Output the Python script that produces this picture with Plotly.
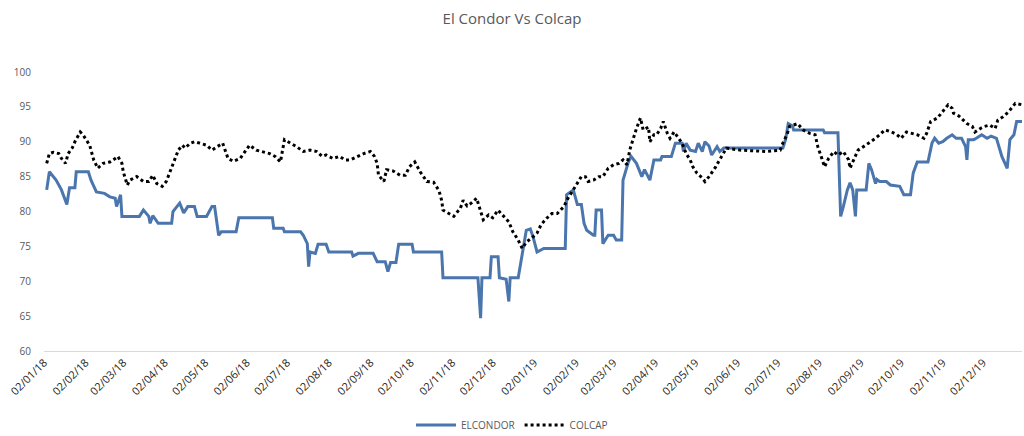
import plotly.graph_objects as go
import pandas as pd

# ---- Data ----
condor_dates = [
    "2018-01-04", "2018-01-06", "2018-01-11", "2018-01-15", "2018-01-19", "2018-01-21", "2018-01-25", "2018-01-26",
    "2018-02-04", "2018-02-06", "2018-02-10", "2018-02-16", "2018-02-20", "2018-02-24", "2018-02-25", "2018-02-28",
    "2018-03-01", "2018-03-14", "2018-03-17", "2018-03-21", "2018-03-22", "2018-03-24", "2018-03-28", "2018-04-07",
    "2018-04-08", "2018-04-13", "2018-04-16", "2018-04-19", "2018-04-24", "2018-04-26", "2018-05-03", "2018-05-07",
    "2018-05-09", "2018-05-12", "2018-05-14", "2018-05-25", "2018-05-27", "2018-06-21", "2018-06-22", "2018-06-29",
    "2018-06-30", "2018-07-12", "2018-07-14", "2018-07-17", "2018-07-18", "2018-07-19", "2018-07-23", "2018-07-25",
    "2018-07-31", "2018-08-02", "2018-08-19", "2018-08-20", "2018-08-24", "2018-09-04", "2018-09-07", "2018-09-13",
    "2018-09-15", "2018-09-17", "2018-09-21", "2018-09-23", "2018-10-03", "2018-10-04", "2018-10-25", "2018-10-26",
    "2018-11-21", "2018-11-23", "2018-11-24", "2018-11-30", "2018-12-01", "2018-12-06", "2018-12-07", "2018-12-12",
    "2018-12-14", "2018-12-15", "2018-12-21", "2018-12-24", "2018-12-27", "2018-12-30", "2019-01-01", "2019-01-04",
    "2019-01-09", "2019-01-25", "2019-01-26", "2019-01-31", "2019-02-03", "2019-02-06", "2019-02-08", "2019-02-10",
    "2019-02-15", "2019-02-16", "2019-02-17", "2019-02-21", "2019-02-22", "2019-02-26", "2019-03-02", "2019-03-04",
    "2019-03-08", "2019-03-09", "2019-03-11", "2019-03-13", "2019-03-15", "2019-03-19", "2019-03-23", "2019-03-25",
    "2019-03-29", "2019-04-01", "2019-04-06", "2019-04-07", "2019-04-14", "2019-04-17", "2019-04-22", "2019-04-23",
    "2019-04-25", "2019-04-28", "2019-05-02", "2019-05-04", "2019-05-07", "2019-05-09", "2019-05-12", "2019-05-14",
    "2019-05-18", "2019-05-20", "2019-05-23", "2019-07-06", "2019-07-08", "2019-07-10", "2019-07-13", "2019-07-14",
    "2019-08-05", "2019-08-06", "2019-08-16", "2019-08-18", "2019-08-20", "2019-08-23", "2019-08-25", "2019-08-27",
    "2019-08-29", "2019-08-30", "2019-09-06", "2019-09-08", "2019-09-10", "2019-09-13", "2019-09-14", "2019-09-16",
    "2019-09-21", "2019-09-24", "2019-10-01", "2019-10-04", "2019-10-09", "2019-10-11", "2019-10-14", "2019-10-22",
    "2019-10-25", "2019-10-27", "2019-10-30", "2019-11-02", "2019-11-05", "2019-11-09", "2019-11-12", "2019-11-16",
    "2019-11-19", "2019-11-20", "2019-11-21", "2019-11-25", "2019-11-27", "2019-12-01", "2019-12-05", "2019-12-08",
    "2019-12-12", "2019-12-16", "2019-12-20", "2019-12-22", "2019-12-25", "2019-12-27", "2019-12-31",
]
condor_values = [
    83.1, 85.7, 84.5, 83.1, 81.0, 83.4, 83.4, 85.7,
    85.7, 84.5, 82.8, 82.6, 82.1, 81.9, 80.7, 82.4,
    79.3, 79.3, 80.2, 79.3, 78.3, 79.4, 78.3, 78.3,
    80.0, 81.2, 79.8, 80.7, 80.7, 79.3, 79.3, 80.7,
    80.7, 76.6, 77.1, 77.1, 79.1, 79.1, 77.6, 77.6,
    77.1, 77.1, 76.6, 75.4, 72.1, 74.2, 74.0, 75.3,
    75.3, 74.2, 74.2, 73.6, 74.0, 74.0, 72.8, 72.8,
    71.4, 72.7, 72.7, 75.3, 75.3, 74.2, 74.2, 70.5,
    70.5, 64.7, 70.5, 70.5, 73.5, 73.5, 70.5, 70.3,
    67.1, 70.5, 70.5, 74.0, 77.3, 77.5, 76.4, 74.2,
    74.7, 74.7, 82.4, 83.1, 81.0, 81.0, 78.3, 77.3,
    76.6, 76.6, 80.2, 80.2, 75.4, 76.6, 76.6, 75.9,
    75.9, 84.5, 86.0, 87.1, 87.9, 86.9, 85.0, 86.0,
    84.5, 87.4, 87.4, 87.9, 87.9, 89.8, 89.8, 88.6,
    89.8, 88.8, 88.6, 89.8, 88.6, 90.0, 89.4, 88.1,
    89.3, 88.6, 89.1, 89.1, 90.3, 92.6, 92.3, 91.7,
    91.7, 91.3, 91.3, 79.3, 80.7, 83.1, 84.1, 83.1,
    79.3, 83.1, 83.1, 86.9, 86.0, 84.0, 84.6, 84.3,
    84.3, 83.8, 83.6, 82.4, 82.4, 85.5, 87.1, 87.1,
    89.8, 90.5, 89.8, 90.0, 90.5, 91.0, 90.5, 90.5,
    89.3, 87.4, 90.3, 90.3, 90.5, 91.0, 90.5, 90.8,
    90.5, 87.9, 86.2, 90.3, 91.0, 92.9, 92.9,
]

colcap_dates = [
    "2018-01-04", "2018-01-06", "2018-01-09", "2018-01-13", "2018-01-15", "2018-01-18", "2018-01-20", "2018-01-23",
    "2018-01-25", "2018-01-29", "2018-01-31", "2018-02-03", "2018-02-05", "2018-02-08", "2018-02-11", "2018-02-15",
    "2018-02-20", "2018-02-24", "2018-02-26", "2018-03-01", "2018-03-02", "2018-03-05", "2018-03-07", "2018-03-12",
    "2018-03-17", "2018-03-21", "2018-03-24", "2018-03-27", "2018-03-31", "2018-04-03", "2018-04-07", "2018-04-10",
    "2018-04-12", "2018-04-15", "2018-04-17", "2018-04-21", "2018-04-24", "2018-04-28", "2018-05-03", "2018-05-07",
    "2018-05-11", "2018-05-15", "2018-05-19", "2018-05-23", "2018-05-28", "2018-06-04", "2018-06-09", "2018-06-14",
    "2018-06-19", "2018-06-23", "2018-06-27", "2018-06-30", "2018-07-05", "2018-07-09", "2018-07-14", "2018-07-19",
    "2018-07-24", "2018-07-28", "2018-07-31", "2018-08-05", "2018-08-10", "2018-08-14", "2018-08-18", "2018-08-23",
    "2018-08-28", "2018-09-02", "2018-09-05", "2018-09-07", "2018-09-08", "2018-09-12", "2018-09-14", "2018-09-19",
    "2018-09-24", "2018-09-28", "2018-10-01", "2018-10-05", "2018-10-09", "2018-10-14", "2018-10-19", "2018-10-23",
    "2018-10-25", "2018-10-26", "2018-10-30", "2018-11-03", "2018-11-08", "2018-11-10", "2018-11-13", "2018-11-16",
    "2018-11-20", "2018-11-23", "2018-11-25", "2018-11-29", "2018-12-02", "2018-12-06", "2018-12-10", "2018-12-14",
    "2018-12-17", "2018-12-21", "2018-12-24", "2018-12-27", "2018-12-31", "2019-01-04", "2019-01-07", "2019-01-11",
    "2019-01-15", "2019-01-19", "2019-01-24", "2019-01-27", "2019-01-30", "2019-02-03", "2019-02-06", "2019-02-09",
    "2019-02-11", "2019-02-15", "2019-02-19", "2019-02-22", "2019-02-26", "2019-03-02", "2019-03-06", "2019-03-09",
    "2019-03-12", "2019-03-14", "2019-03-17", "2019-03-19", "2019-03-22", "2019-03-24", "2019-03-28", "2019-03-29",
    "2019-04-01", "2019-04-03", "2019-04-06", "2019-04-08", "2019-04-11", "2019-04-13", "2019-04-16", "2019-04-19",
    "2019-04-22", "2019-04-25", "2019-04-28", "2019-04-30", "2019-05-03", "2019-05-07", "2019-05-09", "2019-05-12",
    "2019-05-14", "2019-05-17", "2019-05-19", "2019-05-22", "2019-05-25", "2019-06-04", "2019-06-14", "2019-06-24",
    "2019-07-04", "2019-07-06", "2019-07-09", "2019-07-11", "2019-07-14", "2019-07-17", "2019-07-21", "2019-07-26",
    "2019-07-30", "2019-08-01", "2019-08-04", "2019-08-06", "2019-08-09", "2019-08-13", "2019-08-16", "2019-08-20",
    "2019-08-24", "2019-08-25", "2019-08-27", "2019-08-31", "2019-09-04", "2019-09-08", "2019-09-13", "2019-09-16",
    "2019-09-20", "2019-09-25", "2019-09-29", "2019-10-02", "2019-10-06", "2019-10-10", "2019-10-14", "2019-10-19",
    "2019-10-21", "2019-10-24", "2019-10-29", "2019-11-01", "2019-11-04", "2019-11-06", "2019-11-09", "2019-11-10",
    "2019-11-14", "2019-11-17", "2019-11-20", "2019-11-24", "2019-11-26", "2019-11-30", "2019-12-03", "2019-12-07",
    "2019-12-11", "2019-12-13", "2019-12-17", "2019-12-21", "2019-12-23", "2019-12-26", "2019-12-31",
]
colcap_values = [
    86.9, 88.3, 88.5, 88.3, 87.6, 86.9, 88.3, 89.1,
    90.0, 91.4, 91.0, 90.0, 89.5, 87.4, 86.2, 86.9,
    87.1, 87.6, 87.9, 86.9, 85.7, 83.8, 84.5, 85.0,
    84.3, 84.3, 85.2, 84.0, 83.6, 84.3, 86.2, 87.9,
    88.8, 89.5, 89.1, 89.8, 90.0, 89.8, 89.5, 88.8,
    89.3, 89.8, 87.6, 87.2, 87.6, 89.5, 88.8, 88.6,
    88.3, 87.9, 87.1, 90.3, 89.8, 89.3, 88.6, 88.8,
    88.6, 87.9, 88.1, 87.6, 87.9, 87.4, 87.4, 87.9,
    88.3, 88.6, 87.9, 86.9, 85.2, 84.3, 86.0, 85.8,
    85.2, 85.2, 86.4, 87.1, 85.7, 84.3, 84.2, 83.0,
    81.6, 80.2, 79.7, 79.3, 80.5, 81.6, 80.8, 81.2,
    81.9, 80.2, 78.8, 79.5, 79.1, 80.2, 79.3, 78.5,
    77.1, 75.9, 74.7, 75.6, 76.2, 76.9, 78.1, 79.0,
    79.7, 79.7, 80.7, 81.9, 82.8, 84.0, 85.0, 85.0,
    84.3, 84.5, 85.0, 85.0, 86.2, 86.7, 86.9, 87.4,
    86.7, 88.8, 90.7, 91.9, 93.4, 91.7, 92.1, 90.0,
    91.0, 91.0, 91.9, 92.9, 91.2, 90.5, 91.4, 90.5,
    89.8, 88.3, 87.4, 86.4, 85.5, 84.8, 84.3, 85.0,
    85.5, 86.4, 87.1, 88.1, 89.1, 88.8, 88.7, 88.6,
    88.8, 89.8, 91.0, 92.2, 92.4, 92.6, 91.7, 91.2,
    91.0, 89.3, 87.6, 86.4, 87.6, 88.6, 88.1, 88.6,
    87.4, 86.2, 87.1, 88.8, 89.3, 89.8, 90.5, 91.0,
    91.7, 91.4, 91.0, 90.5, 91.4, 91.2, 91.0, 90.5,
    91.2, 92.9, 93.4, 94.1, 94.8, 95.3, 94.8, 94.1,
    93.7, 93.1, 92.6, 92.2, 91.4, 91.9, 92.2, 92.4,
    91.9, 93.1, 93.6, 94.3, 94.8, 95.5, 95.3,
]

tick_dates = pd.date_range("2018-01-01", "2019-12-01", freq="MS") + pd.Timedelta(days=1)
tick_labels = [d.strftime("%d/%m/%y") for d in tick_dates]
y_ticks = [60, 65, 70, 75, 80, 85, 90, 95, 100]

fig = go.Figure()
fig.add_trace(go.Scatter(
    x=condor_dates, y=condor_values, name="ELCONDOR", mode="lines",
    line=dict(color="#4a76ad", width=3),
))
fig.add_trace(go.Scatter(
    x=colcap_dates, y=colcap_values, name="COLCAP", mode="lines",
    line=dict(color="#000000", width=3, dash="3px,3px"),
))

fig.update_layout(
    width=1024, height=436,
    margin=dict(l=44, r=2, t=72, b=85, autoexpand=False),
    paper_bgcolor="white", plot_bgcolor="white",
    font=dict(family="Open Sans, Liberation Sans, sans-serif", color="#595959"),
    title=dict(text="El Condor Vs Colcap", x=0.5, xanchor="center",
               yref="container", y=0.958, yanchor="middle",
               font=dict(size=15, color="#595959")),
    showlegend=True,
    legend=dict(orientation="h", xref="container", x=0.5, xanchor="center",
                yref="container", y=0.025, yanchor="middle",
                font=dict(size=10, color="#595959"), itemwidth=40),
)
fig.update_xaxes(
    type="date", range=["2018-01-02", "2019-12-31"], automargin=False,
    tickmode="array", tickvals=tick_dates, ticktext=tick_labels, tickangle=-45,
    tickfont=dict(size=11, color="#262626"),
    showgrid=False, zeroline=False, showline=True, linecolor="#d9d9d9", linewidth=1,
    ticks="",
)
fig.update_yaxes(
    range=[60, 100], tickvals=y_ticks, tickfont=dict(size=10, color="#595959"),
    automargin=False,
    showgrid=False, zeroline=False, showline=False, ticks="", ticklabelstandoff=12,
)

fig.write_html("out.html")
